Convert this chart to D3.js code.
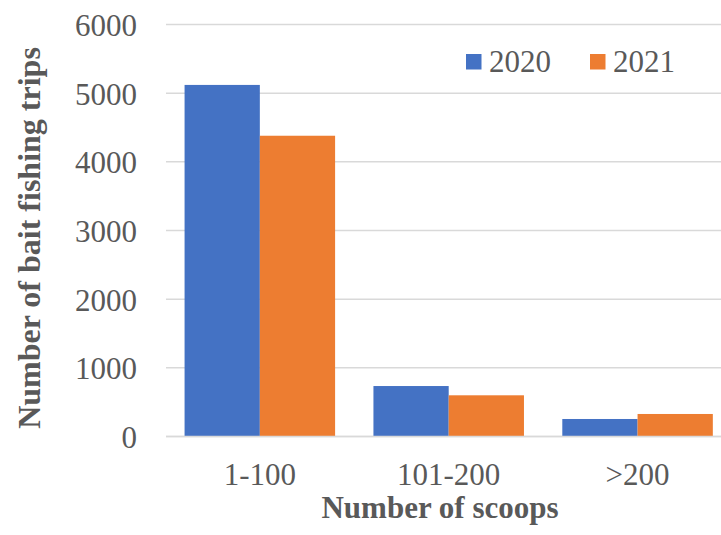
<!DOCTYPE html>
<html>
<head>
<meta charset="utf-8">
<script src="https://cdn.jsdelivr.net/npm/d3@7"></script>
<style>
  html, body { margin: 0; padding: 0; background: #fff; }
  svg { display: block; }
  text { font-family: "Liberation Serif", "Times New Roman", serif; fill: #595959; }
</style>
</head>
<body>
<svg id="chart" width="721" height="535"></svg>
<script>
// Bait fishing trips by number of scoops, 2020 vs 2021
const categories = ["1-100", "101-200", ">200"];
const seriesNames = ["2020", "2021"];
const values2020 = [5120, 735, 255];
const values2021 = [4380, 600, 328];
const yTicks = [0, 1000, 2000, 3000, 4000, 5000, 6000];
const colors = ["#4472C4", "#ED7D31"];

const seriesValues = [values2020, values2021];
const rows = categories.map((c, i) => ({
  category: c,
  values: seriesNames.map((s, j) => ({ series: s, value: seriesValues[j][i] }))
}));

const svg = d3.select("#chart");
const plot = { left: 166, right: 732, top: 24.5, bottom: 436.5 };
const serif = "'Liberation Serif', 'Times New Roman', serif";

const y = d3.scaleLinear().domain([0, 6000]).range([plot.bottom, plot.top]);
const x0 = d3.scaleBand().domain(categories)
  .range([plot.left - 0.6, plot.right])
  .paddingInner(0.203).paddingOuter(0.1015);
const x1 = d3.scaleBand().domain(seriesNames).range([0, x0.bandwidth()]);

// gridlines
svg.append("g")
  .selectAll("line")
  .data(yTicks)
  .join("line")
  .attr("x1", plot.left).attr("x2", 721)
  .attr("y1", d => y(d)).attr("y2", d => y(d))
  .attr("stroke", "#d9d9d9").attr("stroke-width", 1.5);

// y tick labels
const yAxis = d3.axisLeft(y).tickValues(yTicks).tickFormat(d3.format("d"))
  .tickSize(0).tickPadding(0);
const gy = svg.append("g").attr("transform", "translate(137,0)").call(yAxis)
  .attr("font-family", null);
gy.select(".domain").remove();
gy.selectAll("text")
  .attr("font-size", 31)
  .attr("dy", "0.35em")
  .style("font-family", serif)
  .attr("fill", "#595959");

// bars
const groups = svg.append("g")
  .selectAll("g")
  .data(rows)
  .join("g")
  .attr("transform", d => `translate(${x0(d.category)},0)`);
groups.selectAll("rect")
  .data(d => d.values)
  .join("rect")
  .attr("x", d => x1(d.series))
  .attr("width", x1.bandwidth())
  .attr("y", d => y(d.value))
  .attr("height", d => y(0) - y(d.value))
  .attr("fill", (d, i) => colors[i]);

// baseline
svg.append("line")
  .attr("x1", plot.left).attr("x2", 721)
  .attr("y1", y(0)).attr("y2", y(0))
  .attr("stroke", "#d9d9d9").attr("stroke-width", 1.5);

// category labels
const xAxis = d3.axisBottom(x0).tickSize(0).tickPadding(0);
const gx = svg.append("g").attr("transform", "translate(0,485)").call(xAxis)
  .attr("font-family", null);
gx.select(".domain").remove();
gx.selectAll("text")
  .attr("font-size", 31)
  .attr("dy", 0)
  .attr("y", 0)
  .style("font-family", serif)
  .attr("fill", "#595959");

// axis titles
svg.append("text")
  .attr("x", 440).attr("y", 518)
  .attr("text-anchor", "middle")
  .attr("font-size", 31).attr("font-weight", "bold")
  .text("Number of scoops");

svg.append("text")
  .attr("transform", "translate(40,238) rotate(-90)")
  .attr("text-anchor", "middle")
  .attr("font-size", 32).attr("font-weight", "bold")
  .text("Number of bait fishing trips");

// legend
const legendX = [466, 590];
const legend = svg.append("g")
  .selectAll("g")
  .data(seriesNames)
  .join("g")
  .attr("transform", (d, i) => `translate(${legendX[i]},54)`);
legend.append("rect")
  .attr("width", 15.5).attr("height", 15.5)
  .attr("fill", (d, i) => colors[i]);
legend.append("text")
  .attr("x", 23).attr("y", 18)
  .attr("font-size", 31)
  .text(d => d);
</script>
</body>
</html>
